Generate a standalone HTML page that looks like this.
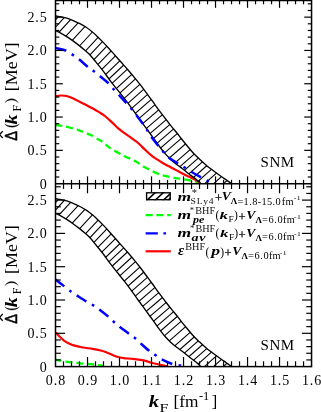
<!DOCTYPE html>
<html><head><meta charset="utf-8"><title>chart</title>
<style>html,body{margin:0;padding:0;background:#fff;}svg{display:block;}text{font-kerning:none;}</style></head>
<body>
<svg width="321" height="412" viewBox="0 0 321 412" style="will-change:transform">
<defs>
<clipPath id="bT"><path d="M55.80 15.90C56.70 16.05 59.25 16.38 61.20 16.80C63.15 17.22 65.42 17.73 67.50 18.40C69.58 19.07 71.63 19.92 73.70 20.80C75.77 21.68 77.82 22.62 79.90 23.70C81.98 24.78 84.12 25.92 86.20 27.30C88.28 28.68 90.73 30.65 92.40 32.00C94.07 33.35 94.52 33.80 96.20 35.40C97.88 37.00 100.42 39.47 102.50 41.60C104.58 43.73 106.63 45.93 108.70 48.20C110.77 50.47 112.82 52.85 114.90 55.20C116.98 57.55 119.12 59.97 121.20 62.30C123.28 64.63 125.12 66.57 127.40 69.20C129.68 71.83 132.70 75.43 134.90 78.10C137.10 80.77 138.72 82.77 140.60 85.20C142.48 87.63 144.22 90.03 146.20 92.70C148.18 95.37 150.42 98.33 152.50 101.20C154.58 104.07 156.63 107.10 158.70 109.90C160.77 112.70 162.82 115.30 164.90 118.00C166.98 120.70 169.12 123.52 171.20 126.10C173.28 128.68 175.73 131.43 177.40 133.50C179.07 135.57 179.52 136.38 181.20 138.50C182.88 140.62 185.42 143.70 187.50 146.20C189.58 148.70 191.63 151.28 193.70 153.50C195.77 155.72 197.82 157.55 199.90 159.50C201.98 161.45 204.12 163.45 206.20 165.20C208.28 166.95 210.12 168.28 212.40 170.00C214.68 171.72 217.60 173.85 219.90 175.50C222.20 177.15 224.30 178.58 226.20 179.90C228.10 181.22 230.45 182.82 231.30 183.40L200.50 183.20C199.57 182.40 196.87 179.98 194.90 178.40C192.93 176.82 190.77 175.32 188.70 173.70C186.63 172.08 184.38 170.15 182.50 168.70C180.62 167.25 179.28 166.47 177.40 165.00C175.52 163.53 173.28 161.83 171.20 159.90C169.12 157.97 166.98 155.80 164.90 153.40C162.82 151.00 160.77 148.27 158.70 145.50C156.63 142.73 154.05 138.93 152.50 136.80C150.95 134.67 150.95 134.82 149.40 132.70C147.85 130.58 145.28 126.97 143.20 124.10C141.12 121.23 138.98 118.38 136.90 115.50C134.82 112.62 132.77 109.62 130.70 106.80C128.63 103.98 126.80 101.53 124.50 98.60C122.20 95.67 119.20 92.08 116.90 89.20C114.60 86.32 113.10 84.47 110.70 81.30C108.30 78.13 104.92 73.35 102.50 70.20C100.08 67.05 98.28 64.93 96.20 62.40C94.12 59.87 91.88 57.02 90.00 55.00C88.12 52.98 86.58 51.78 84.90 50.30C83.22 48.82 81.77 47.58 79.90 46.10C78.03 44.62 75.77 42.90 73.70 41.40C71.63 39.90 69.58 38.43 67.50 37.10C65.42 35.77 63.15 34.47 61.20 33.40C59.25 32.33 56.70 31.15 55.80 30.70Z"/></clipPath>
<clipPath id="bB"><path d="M55.80 198.70C56.70 198.85 59.25 199.18 61.20 199.60C63.15 200.02 65.42 200.53 67.50 201.20C69.58 201.87 71.63 202.72 73.70 203.60C75.77 204.48 77.82 205.42 79.90 206.50C81.98 207.58 84.12 208.72 86.20 210.10C88.28 211.48 90.73 213.45 92.40 214.80C94.07 216.15 94.52 216.60 96.20 218.20C97.88 219.80 100.42 222.27 102.50 224.40C104.58 226.53 106.63 228.73 108.70 231.00C110.77 233.27 112.82 235.65 114.90 238.00C116.98 240.35 119.12 242.77 121.20 245.10C123.28 247.43 125.12 249.37 127.40 252.00C129.68 254.63 132.70 258.23 134.90 260.90C137.10 263.57 138.72 265.57 140.60 268.00C142.48 270.43 144.22 272.83 146.20 275.50C148.18 278.17 150.42 281.13 152.50 284.00C154.58 286.87 156.63 289.90 158.70 292.70C160.77 295.50 162.82 298.10 164.90 300.80C166.98 303.50 169.12 306.32 171.20 308.90C173.28 311.48 175.73 314.23 177.40 316.30C179.07 318.37 179.52 319.18 181.20 321.30C182.88 323.42 185.42 326.50 187.50 329.00C189.58 331.50 191.63 334.08 193.70 336.30C195.77 338.52 197.82 340.35 199.90 342.30C201.98 344.25 204.12 346.25 206.20 348.00C208.28 349.75 210.12 351.08 212.40 352.80C214.68 354.52 217.60 356.65 219.90 358.30C222.20 359.95 224.30 361.38 226.20 362.70C228.10 364.02 230.45 365.62 231.30 366.20L200.50 366.00C199.57 365.20 196.87 362.78 194.90 361.20C192.93 359.62 190.77 358.12 188.70 356.50C186.63 354.88 184.38 352.95 182.50 351.50C180.62 350.05 179.28 349.27 177.40 347.80C175.52 346.33 173.28 344.63 171.20 342.70C169.12 340.77 166.98 338.60 164.90 336.20C162.82 333.80 160.77 331.07 158.70 328.30C156.63 325.53 154.05 321.73 152.50 319.60C150.95 317.47 150.95 317.62 149.40 315.50C147.85 313.38 145.28 309.77 143.20 306.90C141.12 304.03 138.98 301.18 136.90 298.30C134.82 295.42 132.77 292.42 130.70 289.60C128.63 286.78 126.80 284.33 124.50 281.40C122.20 278.47 119.20 274.88 116.90 272.00C114.60 269.12 113.10 267.27 110.70 264.10C108.30 260.93 104.92 256.15 102.50 253.00C100.08 249.85 98.28 247.73 96.20 245.20C94.12 242.67 91.88 239.82 90.00 237.80C88.12 235.78 86.58 234.58 84.90 233.10C83.22 231.62 81.77 230.38 79.90 228.90C78.03 227.42 75.77 225.70 73.70 224.20C71.63 222.70 69.58 221.23 67.50 219.90C65.42 218.57 63.15 217.27 61.20 216.20C59.25 215.13 56.70 213.95 55.80 213.50Z"/></clipPath>
<clipPath id="pT"><rect x="55.50" y="0.50" width="256.05" height="183.15"/></clipPath>
<clipPath id="pB"><rect x="55.50" y="183.65" width="256.05" height="182.95"/></clipPath>
</defs>
<rect width="321" height="412" fill="#fff"/>
<g clip-path="url(#pT)">
<path d="M55.80 125.00C57.12 125.20 61.75 125.87 63.70 126.20C65.65 126.53 65.42 126.50 67.50 127.00C69.58 127.50 74.13 128.58 76.20 129.20C78.27 129.82 78.03 129.97 79.90 130.70C81.77 131.43 85.40 132.78 87.40 133.60C89.40 134.42 90.03 134.60 91.90 135.60C93.77 136.60 96.85 138.58 98.60 139.60C100.35 140.62 100.73 140.48 102.40 141.70C104.07 142.92 107.03 145.62 108.60 146.90C110.17 148.18 110.13 148.40 111.80 149.40C113.47 150.40 116.73 151.87 118.60 152.90C120.47 153.93 121.18 154.68 123.00 155.60C124.82 156.52 127.67 157.58 129.50 158.40C131.33 159.22 132.32 159.60 134.00 160.50C135.68 161.40 138.03 162.80 139.60 163.80C141.17 164.80 141.83 165.58 143.40 166.50C144.97 167.42 147.45 168.48 149.00 169.30C150.55 170.12 150.98 170.58 152.70 171.40C154.42 172.22 157.58 173.53 159.30 174.20C161.02 174.87 161.30 174.93 163.00 175.40C164.70 175.87 167.63 176.58 169.50 177.00C171.37 177.42 172.45 177.63 174.20 177.90C175.95 178.17 178.32 178.37 180.00 178.60C181.68 178.83 182.53 178.98 184.30 179.30C186.07 179.62 188.83 180.15 190.60 180.50C192.37 180.85 193.35 181.08 194.90 181.40C196.45 181.72 198.72 182.08 199.90 182.40C201.08 182.72 201.65 183.15 202.00 183.30" fill="none" stroke="#00ff00" stroke-width="2.3" stroke-dasharray="6.8 4.1" stroke-dashoffset="0.4"/>
<path d="M55.80 96.20C56.70 96.08 59.25 95.50 61.20 95.50C63.15 95.50 65.42 95.67 67.50 96.20C69.58 96.73 71.62 97.75 73.70 98.70C75.78 99.65 77.92 100.87 80.00 101.90C82.08 102.93 84.13 103.83 86.20 104.90C88.27 105.97 90.33 107.13 92.40 108.30C94.47 109.47 96.52 110.62 98.60 111.90C100.68 113.18 102.67 114.25 104.90 116.00C107.13 117.75 109.78 120.33 112.00 122.40C114.22 124.47 116.12 126.60 118.20 128.40C120.28 130.20 122.33 131.63 124.50 133.20C126.67 134.77 129.03 136.25 131.20 137.80C133.37 139.35 136.03 141.33 137.50 142.50C138.97 143.67 138.55 143.42 140.00 144.80C141.45 146.18 144.12 148.87 146.20 150.80C148.28 152.73 150.42 154.80 152.50 156.40C154.58 158.00 156.63 159.10 158.70 160.40C160.77 161.70 162.82 163.02 164.90 164.20C166.98 165.38 169.32 166.52 171.20 167.50C173.08 168.48 174.32 169.10 176.20 170.10C178.08 171.10 180.42 172.42 182.50 173.50C184.58 174.58 186.63 175.58 188.70 176.60C190.77 177.62 193.03 178.63 194.90 179.60C196.77 180.57 198.80 181.77 199.90 182.40C201.00 183.03 201.23 183.23 201.50 183.40" fill="none" stroke="#ff0000" stroke-width="2.2"/>
<path d="M55.80 15.90C56.70 16.05 59.25 16.38 61.20 16.80C63.15 17.22 65.42 17.73 67.50 18.40C69.58 19.07 71.63 19.92 73.70 20.80C75.77 21.68 77.82 22.62 79.90 23.70C81.98 24.78 84.12 25.92 86.20 27.30C88.28 28.68 90.73 30.65 92.40 32.00C94.07 33.35 94.52 33.80 96.20 35.40C97.88 37.00 100.42 39.47 102.50 41.60C104.58 43.73 106.63 45.93 108.70 48.20C110.77 50.47 112.82 52.85 114.90 55.20C116.98 57.55 119.12 59.97 121.20 62.30C123.28 64.63 125.12 66.57 127.40 69.20C129.68 71.83 132.70 75.43 134.90 78.10C137.10 80.77 138.72 82.77 140.60 85.20C142.48 87.63 144.22 90.03 146.20 92.70C148.18 95.37 150.42 98.33 152.50 101.20C154.58 104.07 156.63 107.10 158.70 109.90C160.77 112.70 162.82 115.30 164.90 118.00C166.98 120.70 169.12 123.52 171.20 126.10C173.28 128.68 175.73 131.43 177.40 133.50C179.07 135.57 179.52 136.38 181.20 138.50C182.88 140.62 185.42 143.70 187.50 146.20C189.58 148.70 191.63 151.28 193.70 153.50C195.77 155.72 197.82 157.55 199.90 159.50C201.98 161.45 204.12 163.45 206.20 165.20C208.28 166.95 210.12 168.28 212.40 170.00C214.68 171.72 217.60 173.85 219.90 175.50C222.20 177.15 224.30 178.58 226.20 179.90C228.10 181.22 230.45 182.82 231.30 183.40L200.50 183.20C199.57 182.40 196.87 179.98 194.90 178.40C192.93 176.82 190.77 175.32 188.70 173.70C186.63 172.08 184.38 170.15 182.50 168.70C180.62 167.25 179.28 166.47 177.40 165.00C175.52 163.53 173.28 161.83 171.20 159.90C169.12 157.97 166.98 155.80 164.90 153.40C162.82 151.00 160.77 148.27 158.70 145.50C156.63 142.73 154.05 138.93 152.50 136.80C150.95 134.67 150.95 134.82 149.40 132.70C147.85 130.58 145.28 126.97 143.20 124.10C141.12 121.23 138.98 118.38 136.90 115.50C134.82 112.62 132.77 109.62 130.70 106.80C128.63 103.98 126.80 101.53 124.50 98.60C122.20 95.67 119.20 92.08 116.90 89.20C114.60 86.32 113.10 84.47 110.70 81.30C108.30 78.13 104.92 73.35 102.50 70.20C100.08 67.05 98.28 64.93 96.20 62.40C94.12 59.87 91.88 57.02 90.00 55.00C88.12 52.98 86.58 51.78 84.90 50.30C83.22 48.82 81.77 47.58 79.90 46.10C78.03 44.62 75.77 42.90 73.70 41.40C71.63 39.90 69.58 38.43 67.50 37.10C65.42 35.77 63.15 34.47 61.20 33.40C59.25 32.33 56.70 31.15 55.80 30.70Z" fill="#fff" stroke="none"/>
<g clip-path="url(#bT)" stroke="#000" stroke-width="1.1"><line x1="18.70" y1="60.24" x2="61.70" y2="13.09"/><line x1="24.30" y1="61.36" x2="67.30" y2="14.30"/><line x1="30.60" y1="63.27" x2="73.60" y2="16.32"/><line x1="38.10" y1="66.41" x2="81.10" y2="19.59"/><line x1="44.90" y1="70.00" x2="87.90" y2="23.30"/><line x1="52.40" y1="75.32" x2="95.40" y2="28.75"/><line x1="58.10" y1="80.50" x2="101.10" y2="34.03"/><line x1="62.50" y1="84.20" x2="105.50" y2="38.41"/><line x1="66.80" y1="87.75" x2="109.80" y2="43.06"/><line x1="71.20" y1="91.53" x2="114.20" y2="47.98"/><line x1="75.50" y1="95.36" x2="118.50" y2="52.92"/><line x1="79.90" y1="99.26" x2="122.90" y2="57.95"/><line x1="83.70" y1="102.59" x2="126.70" y2="62.27"/><line x1="87.40" y1="106.18" x2="130.40" y2="66.43"/><line x1="91.80" y1="111.00" x2="134.80" y2="71.68"/><line x1="95.50" y1="115.09" x2="138.50" y2="76.13"/><line x1="99.90" y1="120.17" x2="142.90" y2="81.64"/><line x1="103.70" y1="124.84" x2="146.70" y2="86.69"/><line x1="107.50" y1="129.60" x2="150.50" y2="91.82"/><line x1="111.20" y1="134.25" x2="154.20" y2="96.84"/><line x1="115.00" y1="139.17" x2="158.00" y2="102.12"/><line x1="118.70" y1="144.02" x2="161.70" y2="107.34"/><line x1="122.40" y1="148.81" x2="165.40" y2="112.18"/><line x1="126.20" y1="153.86" x2="169.20" y2="117.11"/><line x1="129.90" y1="158.73" x2="172.90" y2="121.86"/><line x1="133.60" y1="163.37" x2="176.60" y2="126.38"/><line x1="137.40" y1="168.02" x2="180.40" y2="130.91"/><line x1="141.20" y1="173.14" x2="184.20" y2="135.90"/><line x1="145.60" y1="178.65" x2="188.60" y2="141.27"/><line x1="150.30" y1="184.41" x2="193.30" y2="146.88"/><line x1="154.30" y1="189.11" x2="197.30" y2="151.45"/><line x1="158.40" y1="193.20" x2="201.40" y2="155.41"/><line x1="162.50" y1="197.15" x2="205.50" y2="159.20"/><line x1="166.80" y1="201.14" x2="209.80" y2="163.00"/><line x1="171.50" y1="204.96" x2="214.50" y2="166.63"/><line x1="176.50" y1="208.87" x2="219.50" y2="170.32"/><line x1="181.50" y1="212.68" x2="224.50" y2="173.91"/><line x1="187.00" y1="216.73" x2="230.00" y2="177.73"/></g>
<path d="M55.80 15.90C56.70 16.05 59.25 16.38 61.20 16.80C63.15 17.22 65.42 17.73 67.50 18.40C69.58 19.07 71.63 19.92 73.70 20.80C75.77 21.68 77.82 22.62 79.90 23.70C81.98 24.78 84.12 25.92 86.20 27.30C88.28 28.68 90.73 30.65 92.40 32.00C94.07 33.35 94.52 33.80 96.20 35.40C97.88 37.00 100.42 39.47 102.50 41.60C104.58 43.73 106.63 45.93 108.70 48.20C110.77 50.47 112.82 52.85 114.90 55.20C116.98 57.55 119.12 59.97 121.20 62.30C123.28 64.63 125.12 66.57 127.40 69.20C129.68 71.83 132.70 75.43 134.90 78.10C137.10 80.77 138.72 82.77 140.60 85.20C142.48 87.63 144.22 90.03 146.20 92.70C148.18 95.37 150.42 98.33 152.50 101.20C154.58 104.07 156.63 107.10 158.70 109.90C160.77 112.70 162.82 115.30 164.90 118.00C166.98 120.70 169.12 123.52 171.20 126.10C173.28 128.68 175.73 131.43 177.40 133.50C179.07 135.57 179.52 136.38 181.20 138.50C182.88 140.62 185.42 143.70 187.50 146.20C189.58 148.70 191.63 151.28 193.70 153.50C195.77 155.72 197.82 157.55 199.90 159.50C201.98 161.45 204.12 163.45 206.20 165.20C208.28 166.95 210.12 168.28 212.40 170.00C214.68 171.72 217.60 173.85 219.90 175.50C222.20 177.15 224.30 178.58 226.20 179.90C228.10 181.22 230.45 182.82 231.30 183.40" fill="none" stroke="#000" stroke-width="1.35"/>
<path d="M55.80 30.70C56.70 31.15 59.25 32.33 61.20 33.40C63.15 34.47 65.42 35.77 67.50 37.10C69.58 38.43 71.63 39.90 73.70 41.40C75.77 42.90 78.03 44.62 79.90 46.10C81.77 47.58 83.22 48.82 84.90 50.30C86.58 51.78 88.12 52.98 90.00 55.00C91.88 57.02 94.12 59.87 96.20 62.40C98.28 64.93 100.08 67.05 102.50 70.20C104.92 73.35 108.30 78.13 110.70 81.30C113.10 84.47 114.60 86.32 116.90 89.20C119.20 92.08 122.20 95.67 124.50 98.60C126.80 101.53 128.63 103.98 130.70 106.80C132.77 109.62 134.82 112.62 136.90 115.50C138.98 118.38 141.12 121.23 143.20 124.10C145.28 126.97 147.85 130.58 149.40 132.70C150.95 134.82 150.95 134.67 152.50 136.80C154.05 138.93 156.63 142.73 158.70 145.50C160.77 148.27 162.82 151.00 164.90 153.40C166.98 155.80 169.12 157.97 171.20 159.90C173.28 161.83 175.52 163.53 177.40 165.00C179.28 166.47 180.62 167.25 182.50 168.70C184.38 170.15 186.63 172.08 188.70 173.70C190.77 175.32 192.93 176.82 194.90 178.40C196.87 179.98 199.57 182.40 200.50 183.20" fill="none" stroke="#000" stroke-width="1.35"/>
<path d="M55.30 48.20C56.25 48.35 59.22 48.68 61.00 49.10C62.78 49.52 64.10 49.78 66.00 50.70C67.90 51.62 70.28 53.20 72.40 54.60C74.52 56.00 76.00 56.95 78.70 59.10C81.40 61.25 86.07 65.48 88.60 67.50C91.13 69.52 91.98 69.75 93.90 71.20C95.82 72.65 97.72 74.23 100.10 76.20C102.48 78.17 105.98 80.87 108.20 83.00C110.42 85.13 111.62 87.00 113.40 89.00C115.18 91.00 116.75 92.65 118.90 95.00C121.05 97.35 124.23 100.82 126.30 103.10C128.37 105.38 129.63 106.73 131.30 108.70C132.97 110.67 134.32 112.30 136.30 114.90C138.28 117.50 141.33 121.68 143.20 124.30C145.07 126.92 146.07 128.42 147.50 130.60C148.93 132.78 149.93 134.80 151.80 137.40C153.67 140.00 156.77 143.80 158.70 146.20C160.63 148.60 161.73 149.93 163.40 151.80C165.07 153.67 166.20 155.42 168.70 157.40C171.20 159.38 175.68 161.98 178.40 163.70C181.12 165.42 182.87 166.35 185.00 167.70C187.13 169.05 188.50 170.18 191.20 171.80C193.90 173.42 198.40 175.85 201.20 177.40C204.00 178.95 206.12 180.10 208.00 181.10C209.88 182.10 211.75 183.02 212.50 183.40" fill="none" stroke="#0000ff" stroke-width="2.5" stroke-dasharray="11.3 6.4 2.6 6.4"/>
</g>
<g clip-path="url(#pB)">
<path d="M55.80 359.60C56.45 359.75 58.28 360.20 59.70 360.50C61.12 360.80 62.12 361.08 64.30 361.40C66.48 361.72 70.77 362.15 72.80 362.40C74.83 362.65 74.63 362.68 76.50 362.90C78.37 363.12 82.13 363.53 84.00 363.70C85.87 363.87 85.83 363.75 87.70 363.90C89.57 364.05 93.33 364.38 95.20 364.60C97.07 364.82 97.50 365.00 98.90 365.20C100.30 365.40 102.82 365.70 103.60 365.80" fill="none" stroke="#00ff00" stroke-width="2.3" stroke-dasharray="6.8 4.1" stroke-dashoffset="0.9"/>
<path d="M55.80 332.50C56.45 333.20 58.28 335.32 59.70 336.70C61.12 338.08 62.75 339.67 64.30 340.80C65.85 341.93 67.43 342.73 69.00 343.50C70.57 344.27 71.37 344.73 73.70 345.40C76.03 346.07 79.88 346.92 83.00 347.50C86.12 348.08 89.28 348.35 92.40 348.90C95.52 349.45 99.60 350.32 101.70 350.80C103.80 351.28 103.67 351.32 105.00 351.80C106.33 352.28 108.15 353.05 109.70 353.70C111.25 354.35 112.75 355.10 114.30 355.70C115.85 356.30 117.43 356.88 119.00 357.30C120.57 357.72 121.37 357.93 123.70 358.20C126.03 358.47 129.88 358.57 133.00 358.90C136.12 359.23 139.28 359.57 142.40 360.20C145.52 360.83 148.58 361.92 151.70 362.70C154.82 363.48 158.47 364.28 161.10 364.90C163.73 365.52 166.43 366.15 167.50 366.40" fill="none" stroke="#ff0000" stroke-width="2.2"/>
<path d="M55.80 198.70C56.70 198.85 59.25 199.18 61.20 199.60C63.15 200.02 65.42 200.53 67.50 201.20C69.58 201.87 71.63 202.72 73.70 203.60C75.77 204.48 77.82 205.42 79.90 206.50C81.98 207.58 84.12 208.72 86.20 210.10C88.28 211.48 90.73 213.45 92.40 214.80C94.07 216.15 94.52 216.60 96.20 218.20C97.88 219.80 100.42 222.27 102.50 224.40C104.58 226.53 106.63 228.73 108.70 231.00C110.77 233.27 112.82 235.65 114.90 238.00C116.98 240.35 119.12 242.77 121.20 245.10C123.28 247.43 125.12 249.37 127.40 252.00C129.68 254.63 132.70 258.23 134.90 260.90C137.10 263.57 138.72 265.57 140.60 268.00C142.48 270.43 144.22 272.83 146.20 275.50C148.18 278.17 150.42 281.13 152.50 284.00C154.58 286.87 156.63 289.90 158.70 292.70C160.77 295.50 162.82 298.10 164.90 300.80C166.98 303.50 169.12 306.32 171.20 308.90C173.28 311.48 175.73 314.23 177.40 316.30C179.07 318.37 179.52 319.18 181.20 321.30C182.88 323.42 185.42 326.50 187.50 329.00C189.58 331.50 191.63 334.08 193.70 336.30C195.77 338.52 197.82 340.35 199.90 342.30C201.98 344.25 204.12 346.25 206.20 348.00C208.28 349.75 210.12 351.08 212.40 352.80C214.68 354.52 217.60 356.65 219.90 358.30C222.20 359.95 224.30 361.38 226.20 362.70C228.10 364.02 230.45 365.62 231.30 366.20L200.50 366.00C199.57 365.20 196.87 362.78 194.90 361.20C192.93 359.62 190.77 358.12 188.70 356.50C186.63 354.88 184.38 352.95 182.50 351.50C180.62 350.05 179.28 349.27 177.40 347.80C175.52 346.33 173.28 344.63 171.20 342.70C169.12 340.77 166.98 338.60 164.90 336.20C162.82 333.80 160.77 331.07 158.70 328.30C156.63 325.53 154.05 321.73 152.50 319.60C150.95 317.47 150.95 317.62 149.40 315.50C147.85 313.38 145.28 309.77 143.20 306.90C141.12 304.03 138.98 301.18 136.90 298.30C134.82 295.42 132.77 292.42 130.70 289.60C128.63 286.78 126.80 284.33 124.50 281.40C122.20 278.47 119.20 274.88 116.90 272.00C114.60 269.12 113.10 267.27 110.70 264.10C108.30 260.93 104.92 256.15 102.50 253.00C100.08 249.85 98.28 247.73 96.20 245.20C94.12 242.67 91.88 239.82 90.00 237.80C88.12 235.78 86.58 234.58 84.90 233.10C83.22 231.62 81.77 230.38 79.90 228.90C78.03 227.42 75.77 225.70 73.70 224.20C71.63 222.70 69.58 221.23 67.50 219.90C65.42 218.57 63.15 217.27 61.20 216.20C59.25 215.13 56.70 213.95 55.80 213.50Z" fill="#fff" stroke="none"/>
<g clip-path="url(#bB)" stroke="#000" stroke-width="1.1"><line x1="18.70" y1="243.04" x2="61.70" y2="195.89"/><line x1="24.30" y1="244.16" x2="67.30" y2="197.10"/><line x1="30.60" y1="246.07" x2="73.60" y2="199.12"/><line x1="38.10" y1="249.21" x2="81.10" y2="202.39"/><line x1="44.90" y1="252.80" x2="87.90" y2="206.10"/><line x1="52.40" y1="258.12" x2="95.40" y2="211.55"/><line x1="58.10" y1="263.30" x2="101.10" y2="216.83"/><line x1="62.50" y1="267.00" x2="105.50" y2="221.21"/><line x1="66.80" y1="270.55" x2="109.80" y2="225.86"/><line x1="71.20" y1="274.33" x2="114.20" y2="230.78"/><line x1="75.50" y1="278.16" x2="118.50" y2="235.72"/><line x1="79.90" y1="282.06" x2="122.90" y2="240.75"/><line x1="83.70" y1="285.39" x2="126.70" y2="245.07"/><line x1="87.40" y1="288.98" x2="130.40" y2="249.23"/><line x1="91.80" y1="293.80" x2="134.80" y2="254.48"/><line x1="95.50" y1="297.89" x2="138.50" y2="258.93"/><line x1="99.90" y1="302.97" x2="142.90" y2="264.44"/><line x1="103.70" y1="307.64" x2="146.70" y2="269.49"/><line x1="107.50" y1="312.40" x2="150.50" y2="274.62"/><line x1="111.20" y1="317.05" x2="154.20" y2="279.64"/><line x1="115.00" y1="321.97" x2="158.00" y2="284.92"/><line x1="118.70" y1="326.82" x2="161.70" y2="290.14"/><line x1="122.40" y1="331.61" x2="165.40" y2="294.98"/><line x1="126.20" y1="336.66" x2="169.20" y2="299.91"/><line x1="129.90" y1="341.53" x2="172.90" y2="304.66"/><line x1="133.60" y1="346.17" x2="176.60" y2="309.18"/><line x1="137.40" y1="350.82" x2="180.40" y2="313.71"/><line x1="141.20" y1="355.94" x2="184.20" y2="318.70"/><line x1="145.60" y1="361.45" x2="188.60" y2="324.07"/><line x1="150.30" y1="367.21" x2="193.30" y2="329.68"/><line x1="154.30" y1="371.91" x2="197.30" y2="334.25"/><line x1="158.40" y1="376.00" x2="201.40" y2="338.21"/><line x1="162.50" y1="379.95" x2="205.50" y2="342.00"/><line x1="166.80" y1="383.94" x2="209.80" y2="345.80"/><line x1="171.50" y1="387.76" x2="214.50" y2="349.43"/><line x1="176.50" y1="391.67" x2="219.50" y2="353.12"/><line x1="181.50" y1="395.48" x2="224.50" y2="356.71"/><line x1="187.00" y1="399.53" x2="230.00" y2="360.53"/></g>
<path d="M55.80 198.70C56.70 198.85 59.25 199.18 61.20 199.60C63.15 200.02 65.42 200.53 67.50 201.20C69.58 201.87 71.63 202.72 73.70 203.60C75.77 204.48 77.82 205.42 79.90 206.50C81.98 207.58 84.12 208.72 86.20 210.10C88.28 211.48 90.73 213.45 92.40 214.80C94.07 216.15 94.52 216.60 96.20 218.20C97.88 219.80 100.42 222.27 102.50 224.40C104.58 226.53 106.63 228.73 108.70 231.00C110.77 233.27 112.82 235.65 114.90 238.00C116.98 240.35 119.12 242.77 121.20 245.10C123.28 247.43 125.12 249.37 127.40 252.00C129.68 254.63 132.70 258.23 134.90 260.90C137.10 263.57 138.72 265.57 140.60 268.00C142.48 270.43 144.22 272.83 146.20 275.50C148.18 278.17 150.42 281.13 152.50 284.00C154.58 286.87 156.63 289.90 158.70 292.70C160.77 295.50 162.82 298.10 164.90 300.80C166.98 303.50 169.12 306.32 171.20 308.90C173.28 311.48 175.73 314.23 177.40 316.30C179.07 318.37 179.52 319.18 181.20 321.30C182.88 323.42 185.42 326.50 187.50 329.00C189.58 331.50 191.63 334.08 193.70 336.30C195.77 338.52 197.82 340.35 199.90 342.30C201.98 344.25 204.12 346.25 206.20 348.00C208.28 349.75 210.12 351.08 212.40 352.80C214.68 354.52 217.60 356.65 219.90 358.30C222.20 359.95 224.30 361.38 226.20 362.70C228.10 364.02 230.45 365.62 231.30 366.20" fill="none" stroke="#000" stroke-width="1.35"/>
<path d="M55.80 213.50C56.70 213.95 59.25 215.13 61.20 216.20C63.15 217.27 65.42 218.57 67.50 219.90C69.58 221.23 71.63 222.70 73.70 224.20C75.77 225.70 78.03 227.42 79.90 228.90C81.77 230.38 83.22 231.62 84.90 233.10C86.58 234.58 88.12 235.78 90.00 237.80C91.88 239.82 94.12 242.67 96.20 245.20C98.28 247.73 100.08 249.85 102.50 253.00C104.92 256.15 108.30 260.93 110.70 264.10C113.10 267.27 114.60 269.12 116.90 272.00C119.20 274.88 122.20 278.47 124.50 281.40C126.80 284.33 128.63 286.78 130.70 289.60C132.77 292.42 134.82 295.42 136.90 298.30C138.98 301.18 141.12 304.03 143.20 306.90C145.28 309.77 147.85 313.38 149.40 315.50C150.95 317.62 150.95 317.47 152.50 319.60C154.05 321.73 156.63 325.53 158.70 328.30C160.77 331.07 162.82 333.80 164.90 336.20C166.98 338.60 169.12 340.77 171.20 342.70C173.28 344.63 175.52 346.33 177.40 347.80C179.28 349.27 180.62 350.05 182.50 351.50C184.38 352.95 186.63 354.88 188.70 356.50C190.77 358.12 192.93 359.62 194.90 361.20C196.87 362.78 199.57 365.20 200.50 366.00" fill="none" stroke="#000" stroke-width="1.35"/>
<path d="M55.30 279.50C56.80 280.65 61.80 284.47 64.30 286.40C66.80 288.33 68.27 289.63 70.30 291.10C72.33 292.57 73.75 293.42 76.50 295.20C79.25 296.98 84.07 300.15 86.80 301.80C89.53 303.45 90.87 303.87 92.90 305.10C94.93 306.33 96.32 307.18 99.00 309.20C101.68 311.22 106.48 315.05 109.00 317.20C111.52 319.35 112.38 320.55 114.10 322.10C115.82 323.65 116.72 324.48 119.30 326.50C121.88 328.52 126.95 332.23 129.60 334.20C132.25 336.17 133.35 336.77 135.20 338.30C137.05 339.83 138.23 341.20 140.70 343.40C143.17 345.60 147.52 349.53 150.00 351.50C152.48 353.47 153.73 353.95 155.60 355.20C157.47 356.45 158.40 357.53 161.20 359.00C164.00 360.47 169.20 362.93 172.40 364.00C175.60 365.07 178.47 365.05 180.40 365.40C182.33 365.75 183.40 365.98 184.00 366.10" fill="none" stroke="#0000ff" stroke-width="2.5" stroke-dasharray="11.3 6.4 2.6 6.4"/>
</g>
<g stroke="#000" stroke-width="1.5" fill="none" stroke-linecap="butt">
<rect x="55.50" y="0.50" width="256.05" height="366.10"/>
<line x1="55.50" y1="183.65" x2="311.55" y2="183.65"/>
</g>
<g stroke="#000" stroke-width="1.2" fill="none">
<line x1="63.50" y1="0.50" x2="63.50" y2="4.30"/>
<line x1="63.50" y1="179.85" x2="63.50" y2="188.95"/>
<line x1="63.50" y1="361.30" x2="63.50" y2="366.60"/>
<line x1="71.50" y1="0.50" x2="71.50" y2="4.30"/>
<line x1="71.50" y1="179.85" x2="71.50" y2="188.95"/>
<line x1="71.50" y1="361.30" x2="71.50" y2="366.60"/>
<line x1="79.50" y1="0.50" x2="79.50" y2="4.30"/>
<line x1="79.50" y1="179.85" x2="79.50" y2="188.95"/>
<line x1="79.50" y1="361.30" x2="79.50" y2="366.60"/>
<line x1="87.51" y1="0.50" x2="87.51" y2="7.80"/>
<line x1="87.51" y1="176.35" x2="87.51" y2="193.25"/>
<line x1="87.51" y1="357.00" x2="87.51" y2="366.60"/>
<line x1="95.51" y1="0.50" x2="95.51" y2="4.30"/>
<line x1="95.51" y1="179.85" x2="95.51" y2="188.95"/>
<line x1="95.51" y1="361.30" x2="95.51" y2="366.60"/>
<line x1="103.51" y1="0.50" x2="103.51" y2="4.30"/>
<line x1="103.51" y1="179.85" x2="103.51" y2="188.95"/>
<line x1="103.51" y1="361.30" x2="103.51" y2="366.60"/>
<line x1="111.51" y1="0.50" x2="111.51" y2="4.30"/>
<line x1="111.51" y1="179.85" x2="111.51" y2="188.95"/>
<line x1="111.51" y1="361.30" x2="111.51" y2="366.60"/>
<line x1="119.51" y1="0.50" x2="119.51" y2="7.80"/>
<line x1="119.51" y1="176.35" x2="119.51" y2="193.25"/>
<line x1="119.51" y1="357.00" x2="119.51" y2="366.60"/>
<line x1="127.51" y1="0.50" x2="127.51" y2="4.30"/>
<line x1="127.51" y1="179.85" x2="127.51" y2="188.95"/>
<line x1="127.51" y1="361.30" x2="127.51" y2="366.60"/>
<line x1="135.52" y1="0.50" x2="135.52" y2="4.30"/>
<line x1="135.52" y1="179.85" x2="135.52" y2="188.95"/>
<line x1="135.52" y1="361.30" x2="135.52" y2="366.60"/>
<line x1="143.52" y1="0.50" x2="143.52" y2="4.30"/>
<line x1="143.52" y1="179.85" x2="143.52" y2="188.95"/>
<line x1="143.52" y1="361.30" x2="143.52" y2="366.60"/>
<line x1="151.52" y1="0.50" x2="151.52" y2="7.80"/>
<line x1="151.52" y1="176.35" x2="151.52" y2="193.25"/>
<line x1="151.52" y1="357.00" x2="151.52" y2="366.60"/>
<line x1="159.52" y1="0.50" x2="159.52" y2="4.30"/>
<line x1="159.52" y1="179.85" x2="159.52" y2="188.95"/>
<line x1="159.52" y1="361.30" x2="159.52" y2="366.60"/>
<line x1="167.52" y1="0.50" x2="167.52" y2="4.30"/>
<line x1="167.52" y1="179.85" x2="167.52" y2="188.95"/>
<line x1="167.52" y1="361.30" x2="167.52" y2="366.60"/>
<line x1="175.52" y1="0.50" x2="175.52" y2="4.30"/>
<line x1="175.52" y1="179.85" x2="175.52" y2="188.95"/>
<line x1="175.52" y1="361.30" x2="175.52" y2="366.60"/>
<line x1="183.53" y1="0.50" x2="183.53" y2="7.80"/>
<line x1="183.53" y1="176.35" x2="183.53" y2="193.25"/>
<line x1="183.53" y1="357.00" x2="183.53" y2="366.60"/>
<line x1="191.53" y1="0.50" x2="191.53" y2="4.30"/>
<line x1="191.53" y1="179.85" x2="191.53" y2="188.95"/>
<line x1="191.53" y1="361.30" x2="191.53" y2="366.60"/>
<line x1="199.53" y1="0.50" x2="199.53" y2="4.30"/>
<line x1="199.53" y1="179.85" x2="199.53" y2="188.95"/>
<line x1="199.53" y1="361.30" x2="199.53" y2="366.60"/>
<line x1="207.53" y1="0.50" x2="207.53" y2="4.30"/>
<line x1="207.53" y1="179.85" x2="207.53" y2="188.95"/>
<line x1="207.53" y1="361.30" x2="207.53" y2="366.60"/>
<line x1="215.53" y1="0.50" x2="215.53" y2="7.80"/>
<line x1="215.53" y1="176.35" x2="215.53" y2="193.25"/>
<line x1="215.53" y1="357.00" x2="215.53" y2="366.60"/>
<line x1="223.53" y1="0.50" x2="223.53" y2="4.30"/>
<line x1="223.53" y1="179.85" x2="223.53" y2="188.95"/>
<line x1="223.53" y1="361.30" x2="223.53" y2="366.60"/>
<line x1="231.53" y1="0.50" x2="231.53" y2="4.30"/>
<line x1="231.53" y1="179.85" x2="231.53" y2="188.95"/>
<line x1="231.53" y1="361.30" x2="231.53" y2="366.60"/>
<line x1="239.54" y1="0.50" x2="239.54" y2="4.30"/>
<line x1="239.54" y1="179.85" x2="239.54" y2="188.95"/>
<line x1="239.54" y1="361.30" x2="239.54" y2="366.60"/>
<line x1="247.54" y1="0.50" x2="247.54" y2="7.80"/>
<line x1="247.54" y1="176.35" x2="247.54" y2="193.25"/>
<line x1="247.54" y1="357.00" x2="247.54" y2="366.60"/>
<line x1="255.54" y1="0.50" x2="255.54" y2="4.30"/>
<line x1="255.54" y1="179.85" x2="255.54" y2="188.95"/>
<line x1="255.54" y1="361.30" x2="255.54" y2="366.60"/>
<line x1="263.54" y1="0.50" x2="263.54" y2="4.30"/>
<line x1="263.54" y1="179.85" x2="263.54" y2="188.95"/>
<line x1="263.54" y1="361.30" x2="263.54" y2="366.60"/>
<line x1="271.54" y1="0.50" x2="271.54" y2="4.30"/>
<line x1="271.54" y1="179.85" x2="271.54" y2="188.95"/>
<line x1="271.54" y1="361.30" x2="271.54" y2="366.60"/>
<line x1="279.54" y1="0.50" x2="279.54" y2="7.80"/>
<line x1="279.54" y1="176.35" x2="279.54" y2="193.25"/>
<line x1="279.54" y1="357.00" x2="279.54" y2="366.60"/>
<line x1="287.55" y1="0.50" x2="287.55" y2="4.30"/>
<line x1="287.55" y1="179.85" x2="287.55" y2="188.95"/>
<line x1="287.55" y1="361.30" x2="287.55" y2="366.60"/>
<line x1="295.55" y1="0.50" x2="295.55" y2="4.30"/>
<line x1="295.55" y1="179.85" x2="295.55" y2="188.95"/>
<line x1="295.55" y1="361.30" x2="295.55" y2="366.60"/>
<line x1="303.55" y1="0.50" x2="303.55" y2="4.30"/>
<line x1="303.55" y1="179.85" x2="303.55" y2="188.95"/>
<line x1="303.55" y1="361.30" x2="303.55" y2="366.60"/>
<line x1="55.50" y1="176.99" x2="59.30" y2="176.99"/>
<line x1="307.75" y1="176.99" x2="311.55" y2="176.99"/>
<line x1="55.50" y1="170.33" x2="59.30" y2="170.33"/>
<line x1="307.75" y1="170.33" x2="311.55" y2="170.33"/>
<line x1="55.50" y1="163.67" x2="59.30" y2="163.67"/>
<line x1="307.75" y1="163.67" x2="311.55" y2="163.67"/>
<line x1="55.50" y1="157.01" x2="59.30" y2="157.01"/>
<line x1="307.75" y1="157.01" x2="311.55" y2="157.01"/>
<line x1="55.50" y1="150.35" x2="62.80" y2="150.35"/>
<line x1="304.25" y1="150.35" x2="311.55" y2="150.35"/>
<line x1="55.50" y1="143.69" x2="59.30" y2="143.69"/>
<line x1="307.75" y1="143.69" x2="311.55" y2="143.69"/>
<line x1="55.50" y1="137.03" x2="59.30" y2="137.03"/>
<line x1="307.75" y1="137.03" x2="311.55" y2="137.03"/>
<line x1="55.50" y1="130.37" x2="59.30" y2="130.37"/>
<line x1="307.75" y1="130.37" x2="311.55" y2="130.37"/>
<line x1="55.50" y1="123.71" x2="59.30" y2="123.71"/>
<line x1="307.75" y1="123.71" x2="311.55" y2="123.71"/>
<line x1="55.50" y1="117.05" x2="62.80" y2="117.05"/>
<line x1="304.25" y1="117.05" x2="311.55" y2="117.05"/>
<line x1="55.50" y1="110.39" x2="59.30" y2="110.39"/>
<line x1="307.75" y1="110.39" x2="311.55" y2="110.39"/>
<line x1="55.50" y1="103.73" x2="59.30" y2="103.73"/>
<line x1="307.75" y1="103.73" x2="311.55" y2="103.73"/>
<line x1="55.50" y1="97.07" x2="59.30" y2="97.07"/>
<line x1="307.75" y1="97.07" x2="311.55" y2="97.07"/>
<line x1="55.50" y1="90.41" x2="59.30" y2="90.41"/>
<line x1="307.75" y1="90.41" x2="311.55" y2="90.41"/>
<line x1="55.50" y1="83.75" x2="62.80" y2="83.75"/>
<line x1="304.25" y1="83.75" x2="311.55" y2="83.75"/>
<line x1="55.50" y1="77.09" x2="59.30" y2="77.09"/>
<line x1="307.75" y1="77.09" x2="311.55" y2="77.09"/>
<line x1="55.50" y1="70.43" x2="59.30" y2="70.43"/>
<line x1="307.75" y1="70.43" x2="311.55" y2="70.43"/>
<line x1="55.50" y1="63.77" x2="59.30" y2="63.77"/>
<line x1="307.75" y1="63.77" x2="311.55" y2="63.77"/>
<line x1="55.50" y1="57.11" x2="59.30" y2="57.11"/>
<line x1="307.75" y1="57.11" x2="311.55" y2="57.11"/>
<line x1="55.50" y1="50.45" x2="62.80" y2="50.45"/>
<line x1="304.25" y1="50.45" x2="311.55" y2="50.45"/>
<line x1="55.50" y1="43.79" x2="59.30" y2="43.79"/>
<line x1="307.75" y1="43.79" x2="311.55" y2="43.79"/>
<line x1="55.50" y1="37.13" x2="59.30" y2="37.13"/>
<line x1="307.75" y1="37.13" x2="311.55" y2="37.13"/>
<line x1="55.50" y1="30.47" x2="59.30" y2="30.47"/>
<line x1="307.75" y1="30.47" x2="311.55" y2="30.47"/>
<line x1="55.50" y1="23.81" x2="59.30" y2="23.81"/>
<line x1="307.75" y1="23.81" x2="311.55" y2="23.81"/>
<line x1="55.50" y1="17.15" x2="62.80" y2="17.15"/>
<line x1="304.25" y1="17.15" x2="311.55" y2="17.15"/>
<line x1="55.50" y1="10.49" x2="59.30" y2="10.49"/>
<line x1="307.75" y1="10.49" x2="311.55" y2="10.49"/>
<line x1="55.50" y1="3.83" x2="59.30" y2="3.83"/>
<line x1="307.75" y1="3.83" x2="311.55" y2="3.83"/>
<line x1="55.50" y1="359.94" x2="60.80" y2="359.94"/>
<line x1="306.25" y1="359.94" x2="311.55" y2="359.94"/>
<line x1="55.50" y1="353.28" x2="60.80" y2="353.28"/>
<line x1="306.25" y1="353.28" x2="311.55" y2="353.28"/>
<line x1="55.50" y1="346.62" x2="60.80" y2="346.62"/>
<line x1="306.25" y1="346.62" x2="311.55" y2="346.62"/>
<line x1="55.50" y1="339.96" x2="60.80" y2="339.96"/>
<line x1="306.25" y1="339.96" x2="311.55" y2="339.96"/>
<line x1="55.50" y1="333.30" x2="65.10" y2="333.30"/>
<line x1="301.95" y1="333.30" x2="311.55" y2="333.30"/>
<line x1="55.50" y1="326.64" x2="60.80" y2="326.64"/>
<line x1="306.25" y1="326.64" x2="311.55" y2="326.64"/>
<line x1="55.50" y1="319.98" x2="60.80" y2="319.98"/>
<line x1="306.25" y1="319.98" x2="311.55" y2="319.98"/>
<line x1="55.50" y1="313.32" x2="60.80" y2="313.32"/>
<line x1="306.25" y1="313.32" x2="311.55" y2="313.32"/>
<line x1="55.50" y1="306.66" x2="60.80" y2="306.66"/>
<line x1="306.25" y1="306.66" x2="311.55" y2="306.66"/>
<line x1="55.50" y1="300.00" x2="65.10" y2="300.00"/>
<line x1="301.95" y1="300.00" x2="311.55" y2="300.00"/>
<line x1="55.50" y1="293.34" x2="60.80" y2="293.34"/>
<line x1="306.25" y1="293.34" x2="311.55" y2="293.34"/>
<line x1="55.50" y1="286.68" x2="60.80" y2="286.68"/>
<line x1="306.25" y1="286.68" x2="311.55" y2="286.68"/>
<line x1="55.50" y1="280.02" x2="60.80" y2="280.02"/>
<line x1="306.25" y1="280.02" x2="311.55" y2="280.02"/>
<line x1="55.50" y1="273.36" x2="60.80" y2="273.36"/>
<line x1="306.25" y1="273.36" x2="311.55" y2="273.36"/>
<line x1="55.50" y1="266.70" x2="65.10" y2="266.70"/>
<line x1="301.95" y1="266.70" x2="311.55" y2="266.70"/>
<line x1="55.50" y1="260.04" x2="60.80" y2="260.04"/>
<line x1="306.25" y1="260.04" x2="311.55" y2="260.04"/>
<line x1="55.50" y1="253.38" x2="60.80" y2="253.38"/>
<line x1="306.25" y1="253.38" x2="311.55" y2="253.38"/>
<line x1="55.50" y1="246.72" x2="60.80" y2="246.72"/>
<line x1="306.25" y1="246.72" x2="311.55" y2="246.72"/>
<line x1="55.50" y1="240.06" x2="60.80" y2="240.06"/>
<line x1="306.25" y1="240.06" x2="311.55" y2="240.06"/>
<line x1="55.50" y1="233.40" x2="65.10" y2="233.40"/>
<line x1="301.95" y1="233.40" x2="311.55" y2="233.40"/>
<line x1="55.50" y1="226.74" x2="60.80" y2="226.74"/>
<line x1="306.25" y1="226.74" x2="311.55" y2="226.74"/>
<line x1="55.50" y1="220.08" x2="60.80" y2="220.08"/>
<line x1="306.25" y1="220.08" x2="311.55" y2="220.08"/>
<line x1="55.50" y1="213.42" x2="60.80" y2="213.42"/>
<line x1="306.25" y1="213.42" x2="311.55" y2="213.42"/>
<line x1="55.50" y1="206.76" x2="60.80" y2="206.76"/>
<line x1="306.25" y1="206.76" x2="311.55" y2="206.76"/>
<line x1="55.50" y1="200.10" x2="65.10" y2="200.10"/>
<line x1="301.95" y1="200.10" x2="311.55" y2="200.10"/>
<line x1="55.50" y1="193.44" x2="60.80" y2="193.44"/>
<line x1="306.25" y1="193.44" x2="311.55" y2="193.44"/>
<line x1="55.50" y1="186.78" x2="60.80" y2="186.78"/>
<line x1="306.25" y1="186.78" x2="311.55" y2="186.78"/>
</g>
<g style="will-change:transform">
<g font-family="Liberation Serif, serif" font-size="14" fill="#000" letter-spacing="0.9">
<text x="55.95" y="385.3" text-anchor="middle">0.8</text>
<text x="87.96" y="385.3" text-anchor="middle">0.9</text>
<text x="119.96" y="385.3" text-anchor="middle">1.0</text>
<text x="151.97" y="385.3" text-anchor="middle">1.1</text>
<text x="183.97" y="385.3" text-anchor="middle">1.2</text>
<text x="215.98" y="385.3" text-anchor="middle">1.3</text>
<text x="247.99" y="385.3" text-anchor="middle">1.4</text>
<text x="279.99" y="385.3" text-anchor="middle">1.5</text>
<text x="312.00" y="385.3" text-anchor="middle">1.6</text>
<text x="47.6" y="188.65" text-anchor="end">0</text>
<text x="47.6" y="155.35" text-anchor="end">0.5</text>
<text x="47.6" y="122.05" text-anchor="end">1.0</text>
<text x="47.6" y="88.75" text-anchor="end">1.5</text>
<text x="47.6" y="55.45" text-anchor="end">2.0</text>
<text x="47.6" y="22.15" text-anchor="end">2.5</text>
<text x="47.6" y="371.60" text-anchor="end">0</text>
<text x="47.6" y="338.30" text-anchor="end">0.5</text>
<text x="47.6" y="305.00" text-anchor="end">1.0</text>
<text x="47.6" y="271.70" text-anchor="end">1.5</text>
<text x="47.6" y="238.40" text-anchor="end">2.0</text>
<text x="47.6" y="205.10" text-anchor="end">2.5</text>
</g>
<g font-family="Liberation Serif, serif" font-size="15" fill="#000" letter-spacing="0.6">
<text x="260.5" y="167.3">SNM</text>
<text x="260.5" y="350.3">SNM</text>
</g>
<text transform="translate(148.70 407.00) scale(1.220 1)" font-family="Liberation Serif, serif" font-weight="bold" font-style="italic" font-size="17.0" >k</text>
<text transform="translate(159.50 411.70) scale(1.200 1)" font-family="Liberation Serif, serif" font-size="13.5" >F</text>
<text transform="translate(173.40 407.00) scale(1.050 1)" font-family="Liberation Serif, serif" font-size="16.5" >[fm</text>
<text transform="translate(198.90 400.20) scale(1.090 1)" font-family="Liberation Serif, serif" font-size="11.5" >-1</text>
<text transform="translate(211.80 407.00) scale(1.000 1)" font-family="Liberation Serif, serif" font-size="16.5" >]</text>
<g transform="translate(16.5 146.80) rotate(-90)">
<text transform="translate(5.95 0.00) scale(0.870 1)" font-family="Liberation Sans, sans-serif" font-size="16.8" stroke="#000" stroke-width="0.55">&#916;</text>
<path d="M8.8 -13.8 L12.2 -16.9 L15.6 -13.8" fill="none" stroke="#000" stroke-width="1.3"/>
<path d="M22.80 -11.80 C18.53 -8.57 18.53 -0.33 22.80 2.90 C20.13 -0.33 20.13 -8.57 22.80 -11.80 Z" fill="#000" stroke="#000" stroke-width="0.3" stroke-linejoin="round"/>
<text transform="translate(22.30 0.00) scale(1.180 1)" font-family="Liberation Serif, serif" font-weight="bold" font-style="italic" font-size="17" >k</text>
<text transform="translate(35.30 4.10) scale(0.880 1)" font-family="Liberation Serif, serif" font-size="13.4" >F</text>
<path d="M44.10 -11.50 C49.43 -8.57 49.43 -1.13 44.10 1.80 C47.83 -1.13 47.83 -8.57 44.10 -11.50 Z" fill="#000" stroke="#000" stroke-width="0.3" stroke-linejoin="round"/>
<text transform="translate(55.60 0.20) scale(1.080 1)" font-family="Liberation Serif, serif" font-size="16.6" >[MeV]</text>
</g>
<g transform="translate(16.5 329.60) rotate(-90)">
<text transform="translate(5.95 0.00) scale(0.870 1)" font-family="Liberation Sans, sans-serif" font-size="16.8" stroke="#000" stroke-width="0.55">&#916;</text>
<path d="M8.8 -13.8 L12.2 -16.9 L15.6 -13.8" fill="none" stroke="#000" stroke-width="1.3"/>
<path d="M22.80 -11.80 C18.53 -8.57 18.53 -0.33 22.80 2.90 C20.13 -0.33 20.13 -8.57 22.80 -11.80 Z" fill="#000" stroke="#000" stroke-width="0.3" stroke-linejoin="round"/>
<text transform="translate(22.30 0.00) scale(1.180 1)" font-family="Liberation Serif, serif" font-weight="bold" font-style="italic" font-size="17" >k</text>
<text transform="translate(35.30 4.10) scale(0.880 1)" font-family="Liberation Serif, serif" font-size="13.4" >F</text>
<path d="M44.10 -11.50 C49.43 -8.57 49.43 -1.13 44.10 1.80 C47.83 -1.13 47.83 -8.57 44.10 -11.50 Z" fill="#000" stroke="#000" stroke-width="0.3" stroke-linejoin="round"/>
<text transform="translate(55.60 0.20) scale(1.080 1)" font-family="Liberation Serif, serif" font-size="16.6" >[MeV]</text>
</g>
<clipPath id="lg"><rect x="146" y="192.2" width="24.8" height="8.1"/></clipPath>
<rect x="146" y="192.2" width="24.8" height="8.1" fill="#fff" stroke="none"/>
<g clip-path="url(#lg)" stroke="#000" stroke-width="1.6">
<line x1="146.20" y1="201.00" x2="156.50" y2="191.50"/>
<line x1="154.30" y1="201.00" x2="164.60" y2="191.50"/>
<line x1="162.40" y1="201.00" x2="172.70" y2="191.50"/>
<line x1="167.6" y1="200.6" x2="171" y2="197.6"/>
</g>
<rect x="146.6" y="192.8" width="23.6" height="6.9" fill="none" stroke="#000" stroke-width="1.35"/>
<path d="M145.6 215.1H170.8" stroke="#00ff00" stroke-width="2.2" stroke-dasharray="7.1 3.7" fill="none"/>
<path d="M145.6 233.3H170.8" stroke="#0000ff" stroke-width="2.2" stroke-dasharray="12.2 5.6 2.6 30" fill="none"/>
<path d="M145.6 251.3H170.8" stroke="#ff0000" stroke-width="2.2" fill="none"/>
<text transform="translate(177.50 200.50) scale(1.470 1)" font-family="Liberation Serif, serif" font-weight="bold" font-style="italic" font-size="11.9" >m</text>
<text transform="translate(190.60 203.80) scale(1.100 1)" font-family="Liberation Serif, serif" font-size="8.8" letter-spacing="0.6" fill="#111">SLy4</text>
<text x="191.70" y="196.10" font-family="Liberation Serif, serif" font-size="10.5" fill="#111">*</text>
<text x="215.10" y="202.40" font-family="Liberation Serif, serif" font-size="12.5" stroke="#000" stroke-width="0.3">+</text>
<text transform="translate(221.85 199.90) scale(1.160 1)" font-family="Liberation Serif, serif" font-weight="bold" font-style="italic" font-size="11.8" >V</text>
<text transform="translate(230.70 204.10) scale(1.080 1)" font-family="Liberation Serif, serif" font-weight="bold" font-size="8.4" >&#923;</text>
<text transform="translate(237.40 204.80) scale(1.100 1)" font-family="Liberation Serif, serif" font-size="9.4" letter-spacing="0.35">=1.8-15.0</text>
<text transform="translate(281.80 204.80) scale(1.100 1)" font-family="Liberation Serif, serif" font-size="9.4" letter-spacing="0.2">fm</text>
<text transform="translate(293.80 200.40) scale(1.100 1)" font-family="Liberation Serif, serif" font-size="7.0" letter-spacing="0.4">-1</text>
<text transform="translate(177.40 219.10) scale(1.470 1)" font-family="Liberation Serif, serif" font-weight="bold" font-style="italic" font-size="11.9" >m</text>
<text x="189.80" y="213.30" font-family="Liberation Serif, serif" font-size="8.8" fill="#111">*</text>
<text transform="translate(195.30 213.80) scale(1.100 1)" font-family="Liberation Serif, serif" font-size="9.3" fill="#111">BHF</text>
<text transform="translate(193.10 223.00) scale(1.180 1)" font-family="Liberation Serif, serif" font-weight="bold" font-style="italic" font-size="10.2" >pe</text>
<text x="215.40" y="219.00" font-family="Liberation Serif, serif" font-size="11.6" >(</text>
<text transform="translate(219.60 219.30) scale(1.560 1)" font-family="Liberation Serif, serif" font-weight="bold" font-style="italic" font-size="10.9" >k</text>
<text transform="translate(228.50 221.60) scale(1.100 1)" font-family="Liberation Serif, serif" font-size="8.6" >F</text>
<text x="233.90" y="219.00" font-family="Liberation Serif, serif" font-size="11.6" >)</text>
<text x="238.50" y="220.60" font-family="Liberation Serif, serif" font-size="12.5" stroke="#000" stroke-width="0.3">+</text>
<text transform="translate(246.25 219.00) scale(1.160 1)" font-family="Liberation Serif, serif" font-weight="bold" font-style="italic" font-size="11.8" >V</text>
<text transform="translate(255.50 223.10) scale(1.080 1)" font-family="Liberation Serif, serif" font-weight="bold" font-size="8.4" >&#923;</text>
<text transform="translate(262.00 222.80) scale(1.100 1)" font-family="Liberation Serif, serif" font-size="9.4" letter-spacing="0.6">=6.0</text>
<text transform="translate(283.00 222.80) scale(1.100 1)" font-family="Liberation Serif, serif" font-size="9.4" letter-spacing="0.2">fm</text>
<text transform="translate(293.90 218.60) scale(1.100 1)" font-family="Liberation Serif, serif" font-size="7.0" letter-spacing="0.4">-1</text>
<text transform="translate(177.40 236.70) scale(1.470 1)" font-family="Liberation Serif, serif" font-weight="bold" font-style="italic" font-size="11.9" >m</text>
<text x="190.00" y="231.10" font-family="Liberation Serif, serif" font-size="8.8" fill="#111">*</text>
<text transform="translate(195.40 231.60) scale(1.100 1)" font-family="Liberation Serif, serif" font-size="9.3" fill="#111">BHF</text>
<text transform="translate(191.50 240.80) scale(1.350 1)" font-family="Liberation Serif, serif" font-weight="bold" font-style="italic" font-size="10.4" letter-spacing="0.5">av</text>
<text x="215.40" y="236.60" font-family="Liberation Serif, serif" font-size="11.6" >(</text>
<text transform="translate(220.00 236.80) scale(1.560 1)" font-family="Liberation Serif, serif" font-weight="bold" font-style="italic" font-size="10.9" >k</text>
<text transform="translate(229.10 239.50) scale(1.100 1)" font-family="Liberation Serif, serif" font-size="8.6" >F</text>
<text x="234.30" y="236.60" font-family="Liberation Serif, serif" font-size="11.6" >)</text>
<text x="238.50" y="238.50" font-family="Liberation Serif, serif" font-size="12.5" stroke="#000" stroke-width="0.3">+</text>
<text transform="translate(246.25 236.50) scale(1.160 1)" font-family="Liberation Serif, serif" font-weight="bold" font-style="italic" font-size="11.8" >V</text>
<text transform="translate(255.50 240.60) scale(1.080 1)" font-family="Liberation Serif, serif" font-weight="bold" font-size="8.4" >&#923;</text>
<text transform="translate(262.00 240.30) scale(1.100 1)" font-family="Liberation Serif, serif" font-size="9.4" letter-spacing="0.6">=6.0</text>
<text transform="translate(283.00 240.30) scale(1.100 1)" font-family="Liberation Serif, serif" font-size="9.4" letter-spacing="0.2">fm</text>
<text transform="translate(293.90 236.10) scale(1.100 1)" font-family="Liberation Serif, serif" font-size="7.0" letter-spacing="0.4">-1</text>
<text transform="translate(178.00 255.00) scale(1.080 1)" font-family="Liberation Serif, serif" font-weight="bold" font-style="italic" font-size="13.8" >&#949;</text>
<text transform="translate(185.20 249.80) scale(1.100 1)" font-family="Liberation Serif, serif" font-size="9.3" fill="#111">BHF</text>
<text x="205.60" y="255.60" font-family="Liberation Serif, serif" font-size="11.6" >(</text>
<text transform="translate(211.20 255.20) scale(1.320 1)" font-family="Liberation Serif, serif" font-weight="bold" font-style="italic" font-size="13.4" >p</text>
<text x="220.20" y="255.60" font-family="Liberation Serif, serif" font-size="11.6" >)</text>
<text x="224.40" y="256.90" font-family="Liberation Serif, serif" font-size="12.5" stroke="#000" stroke-width="0.3">+</text>
<text transform="translate(232.15 254.90) scale(1.160 1)" font-family="Liberation Serif, serif" font-weight="bold" font-style="italic" font-size="11.8" >V</text>
<text transform="translate(241.40 259.00) scale(1.080 1)" font-family="Liberation Serif, serif" font-weight="bold" font-size="8.4" >&#923;</text>
<text transform="translate(247.90 258.70) scale(1.100 1)" font-family="Liberation Serif, serif" font-size="9.4" letter-spacing="0.6">=6.0</text>
<text transform="translate(268.90 258.70) scale(1.100 1)" font-family="Liberation Serif, serif" font-size="9.4" letter-spacing="0.2">fm</text>
<text transform="translate(279.80 254.50) scale(1.100 1)" font-family="Liberation Serif, serif" font-size="7.0" letter-spacing="0.4">-1</text>
</g>
</svg>
</body></html>
